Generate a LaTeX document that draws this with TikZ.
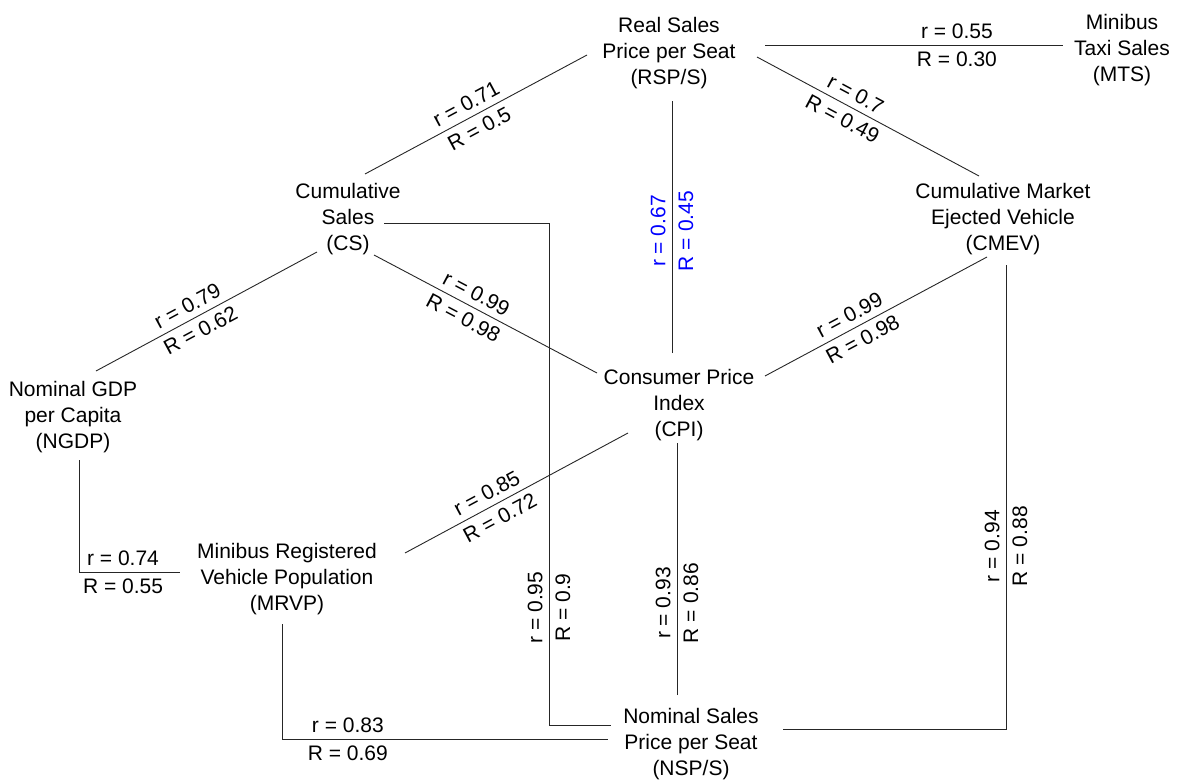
\documentclass[tikz,border=0pt]{standalone}
\usepackage{fontspec}
\setmainfont{Liberation Sans}
\begin{document}
\begin{tikzpicture}[x=1pt,y=-1pt,
  var/.style={align=center, inner sep=0pt, font=\fontsize{21}{26}\selectfont},
  conn/.style={draw=black!85, line width=0.9pt},
  rlab/.style={anchor=south, inner sep=6pt, font=\fontsize{21}{26}\selectfont},
  Rlab/.style={anchor=north, inner sep=6pt, font=\fontsize{21}{26}\selectfont},
  vt/.style={rotate=90},
  hl/.style={text=blue}]
\useasboundingbox (0,0) rectangle (1178,781);
% variables
\node[var] (rsp)  at (669,53)  {Real Sales\\Price per Seat\\(RSP/S)};
\node[var] (mts)  at (1122,50) {Minibus\\Taxi Sales\\(MTS)};
\node[var] (cs)   at (348,219) {Cumulative\\Sales\\(CS)};
\node[var] (cmev) at (1003,219) {Cumulative Market\\Ejected Vehicle\\(CMEV)};
\node[var] (ngdp) at (73,417)  {Nominal GDP\\per Capita\\(NGDP)};
\node[var] (cpi)  at (679,405) {Consumer Price\\Index\\(CPI)};
\node[var] (mrvp) at (287,579) {Minibus Registered\\Vehicle Population\\(MRVP)};
\node[var] (nsp)  at (691,744) {Nominal Sales\\Price per Seat\\(NSP/S)};
% connectors
\draw[conn] ([shift={(96,-8)}]rsp.center) -- ([shift={(-59,-5)}]mts.center)
  node[rlab, pos=0.644] {r = 0.55} node[Rlab, pos=0.644] {R = 0.30};
\draw[conn] ([shift={(88,4)}]rsp.center) -- ([shift={(-24,-43)}]cmev.center)
  node[rlab, sloped, pos=0.415] {r = 0.7} node[Rlab, sloped, pos=0.415] {R = 0.49};
\draw[conn] ([shift={(17,-45)}]cs.center) -- ([shift={(-82,2)}]rsp.center)
  node[rlab, sloped, pos=0.485] {r = 0.71} node[Rlab, sloped, pos=0.485] {R = 0.5};
\draw[conn] ([shift={(-7,-52)}]cpi.center) -- ([shift={(3,48)}]rsp.center)
  node[rlab, vt, hl, pos=0.484] {r = 0.67} node[Rlab, vt, hl, pos=0.484] {R = 0.45};
\draw[conn] ([shift={(36,4)}]cs.center) -| node[rlab, vt, pos=0.883] {r = 0.95} node[Rlab, vt, pos=0.883] {R = 0.9}
  ([shift={(-142,-19)}]nsp.center) -- ([shift={(-80,-19)}]nsp.center);
\draw[conn] ([shift={(23,-46)}]ngdp.center) -- ([shift={(-31,33)}]cs.center)
  node[rlab, sloped, pos=0.443] {r = 0.79} node[Rlab, sloped, pos=0.443] {R = 0.62};
\draw[conn] ([shift={(26,36)}]cs.center) -- ([shift={(-82,-32)}]cpi.center)
  node[rlab, sloped, pos=0.43] {r = 0.99} node[Rlab, sloped, pos=0.43] {R = 0.98};
\draw[conn] ([shift={(86,-29)}]cpi.center) -- ([shift={(-16,38)}]cmev.center)
  node[rlab, sloped, pos=0.41] {r = 0.99} node[Rlab, sloped, pos=0.41] {R = 0.98};
\draw[conn] ([shift={(3,46)}]cmev.center) |- ([shift={(92,-15)}]nsp.center)
  node[rlab, vt, pos=0.303] {r = 0.94} node[Rlab, vt, pos=0.303] {R = 0.88};
\draw[conn] ([shift={(6,43)}]ngdp.center) |- ([shift={(-107,-7)}]mrvp.center)
  node[rlab, pos=0.718] {r = 0.74} node[Rlab, pos=0.718] {R = 0.55};
\draw[conn] ([shift={(118,-26)}]mrvp.center) -- ([shift={(-51,28)}]cpi.center)
  node[rlab, sloped, pos=0.396] {r = 0.85} node[Rlab, sloped, pos=0.396] {R = 0.72};
\draw[conn] ([shift={(-5,45)}]mrvp.center) |- ([shift={(-83,-5)}]nsp.center)
  node[rlab, pos=0.601] {r = 0.83} node[Rlab, pos=0.601] {R = 0.69};
\draw[conn] ([shift={(-14,-49)}]nsp.center) -- ([shift={(-2,38)}]cpi.center)
  node[rlab, vt, pos=0.365] {r = 0.93} node[Rlab, vt, pos=0.365] {R = 0.86};
\end{tikzpicture}
\end{document}
